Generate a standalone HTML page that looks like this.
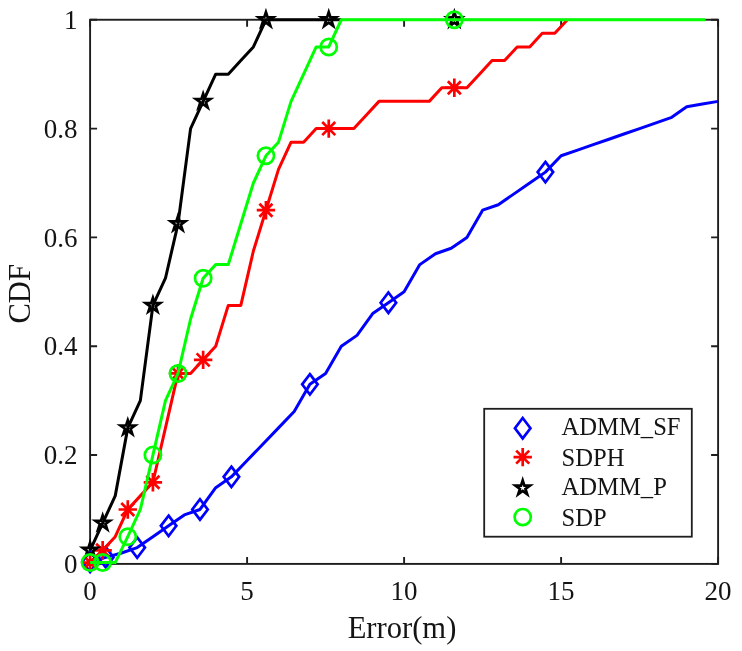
<!DOCTYPE html><html><head><meta charset="utf-8"><style>html,body{margin:0;padding:0;background:#fff;}svg{display:block;will-change:transform;}text{font-family:"Liberation Serif",serif;fill:#141414;}</style></head><body>
<svg width="742" height="651" viewBox="0 0 742 651">
<rect width="742" height="651" fill="#fff"/>
<path d="M90.10 563.90V556.90M90.10 19.75V26.75M247.10 563.90V556.90M247.10 19.75V26.75M404.10 563.90V556.90M404.10 19.75V26.75M561.10 563.90V556.90M561.10 19.75V26.75M718.10 563.90V556.90M718.10 19.75V26.75M90.10 563.90H97.10M718.10 563.90H711.10M90.10 455.07H97.10M718.10 455.07H711.10M90.10 346.24H97.10M718.10 346.24H711.10M90.10 237.41H97.10M718.10 237.41H711.10M90.10 128.58H97.10M718.10 128.58H711.10M90.10 19.75H97.10M718.10 19.75H711.10" stroke="#1e1e1e" stroke-width="1.9" fill="none"/>
<rect x="90.10" y="19.75" width="628.00" height="544.15" fill="none" stroke="#1e1e1e" stroke-width="1.9"/>
<polyline points="90.10,561.72 105.80,557.37 121.50,553.02 137.20,547.58 152.90,536.69 168.60,525.81 184.30,514.93 200.00,509.48 215.70,487.72 231.40,476.84 247.10,460.51 262.80,444.19 278.50,427.86 294.20,411.54 309.90,384.33 325.60,373.45 341.30,346.24 357.00,335.36 372.70,313.59 388.40,302.71 404.10,291.82 419.80,264.62 435.50,253.73 451.20,248.29 466.90,237.41 482.60,210.20 498.30,204.76 514.00,193.88 529.70,183.00 545.40,172.11 561.10,155.79 576.80,150.35 592.50,144.90 608.20,139.46 623.90,134.02 639.60,128.58 655.30,123.14 671.00,117.70 686.70,106.81 702.40,104.09 718.10,101.37" fill="none" stroke="#0000ff" stroke-width="3.0" stroke-linejoin="round" stroke-linecap="butt"/>
<path d="M90.10 551.52L97.85 561.72L90.10 571.92L82.35 561.72Z" fill="none" stroke="#0000ff" stroke-width="2.7"/>
<path d="M105.80 547.17L113.55 557.37L105.80 567.57L98.05 557.37Z" fill="none" stroke="#0000ff" stroke-width="2.7"/>
<path d="M137.20 537.38L144.95 547.58L137.20 557.78L129.45 547.58Z" fill="none" stroke="#0000ff" stroke-width="2.7"/>
<path d="M168.60 515.61L176.35 525.81L168.60 536.01L160.85 525.81Z" fill="none" stroke="#0000ff" stroke-width="2.7"/>
<path d="M200.00 499.28L207.75 509.48L200.00 519.68L192.25 509.48Z" fill="none" stroke="#0000ff" stroke-width="2.7"/>
<path d="M231.40 466.64L239.15 476.84L231.40 487.04L223.65 476.84Z" fill="none" stroke="#0000ff" stroke-width="2.7"/>
<path d="M309.90 374.13L317.65 384.33L309.90 394.53L302.15 384.33Z" fill="none" stroke="#0000ff" stroke-width="2.7"/>
<path d="M388.40 292.51L396.15 302.71L388.40 312.91L380.65 302.71Z" fill="none" stroke="#0000ff" stroke-width="2.7"/>
<path d="M545.40 161.91L553.15 172.11L545.40 182.31L537.65 172.11Z" fill="none" stroke="#0000ff" stroke-width="2.7"/>
<polyline points="90.10,562.54 102.66,550.30 115.22,536.69 127.78,509.48 140.34,495.88 152.90,482.28 165.46,427.86 178.02,373.45 190.58,373.45 203.14,359.84 215.70,346.24 228.26,305.43 240.82,305.43 253.38,251.01 265.94,210.20 278.50,169.39 291.06,142.18 303.62,142.18 316.18,128.58 328.74,128.58 341.30,128.58 353.86,128.58 366.42,114.98 378.98,101.37 391.54,101.37 404.10,101.37 416.66,101.37 429.22,101.37 441.78,87.77 454.34,87.77 466.90,87.77 479.46,74.16 492.02,60.56 504.58,60.56 517.14,46.96 529.70,46.96 542.26,33.35 554.82,33.35 567.38,19.75" fill="none" stroke="#ff0000" stroke-width="3.0" stroke-linejoin="round" stroke-linecap="butt"/>
<path d="M80.90 562.54H99.30M90.10 553.34V571.74M83.59 556.03L96.61 569.05M83.59 569.05L96.61 556.03" fill="none" stroke="#ff0000" stroke-width="2.7"/>
<path d="M93.46 550.30H111.86M102.66 541.10V559.50M96.15 543.79L109.17 556.80M96.15 556.80L109.17 543.79" fill="none" stroke="#ff0000" stroke-width="2.7"/>
<path d="M118.58 509.48H136.98M127.78 500.28V518.68M121.27 502.98L134.29 515.99M121.27 515.99L134.29 502.98" fill="none" stroke="#ff0000" stroke-width="2.7"/>
<path d="M143.70 482.28H162.10M152.90 473.08V491.48M146.39 475.77L159.41 488.78M146.39 488.78L159.41 475.77" fill="none" stroke="#ff0000" stroke-width="2.7"/>
<path d="M168.82 373.45H187.22M178.02 364.25V382.65M171.51 366.94L184.53 379.95M171.51 379.95L184.53 366.94" fill="none" stroke="#ff0000" stroke-width="2.7"/>
<path d="M193.94 359.84H212.34M203.14 350.64V369.04M196.63 353.34L209.65 366.35M196.63 366.35L209.65 353.34" fill="none" stroke="#ff0000" stroke-width="2.7"/>
<path d="M256.74 210.20H275.14M265.94 201.00V219.40M259.43 203.70L272.45 216.71M259.43 216.71L272.45 203.70" fill="none" stroke="#ff0000" stroke-width="2.7"/>
<path d="M319.54 128.58H337.94M328.74 119.38V137.78M322.23 122.07L335.25 135.09M322.23 135.09L335.25 122.07" fill="none" stroke="#ff0000" stroke-width="2.7"/>
<path d="M445.14 87.77H463.54M454.34 78.57V96.97M447.83 81.26L460.85 94.27M447.83 94.27L460.85 81.26" fill="none" stroke="#ff0000" stroke-width="2.7"/>
<polyline points="90.10,550.30 102.66,523.09 115.22,495.88 127.78,427.86 140.34,400.65 152.90,305.43 165.46,278.22 178.02,223.81 190.58,128.58 203.14,101.37 215.70,74.16 228.26,74.16 240.82,60.56 253.38,46.96 265.94,19.75 278.50,19.75 291.06,19.75 303.62,19.75 316.18,19.75 328.74,19.75 341.30,19.75" fill="none" stroke="#000000" stroke-width="3.0" stroke-linejoin="round" stroke-linecap="butt"/>
<path d="M90.10 542.70L91.81 547.95L97.33 547.95L92.86 551.19L94.57 556.44L90.10 553.20L85.63 556.44L87.34 551.19L82.87 547.95L88.39 547.95Z" fill="none" stroke="#000000" stroke-width="2.7" stroke-linejoin="miter" stroke-miterlimit="10"/>
<path d="M102.66 515.49L104.37 520.74L109.89 520.74L105.42 523.99L107.13 529.24L102.66 525.99L98.19 529.24L99.90 523.99L95.43 520.74L100.95 520.74Z" fill="none" stroke="#000000" stroke-width="2.7" stroke-linejoin="miter" stroke-miterlimit="10"/>
<path d="M127.78 420.26L129.49 425.51L135.01 425.51L130.54 428.76L132.25 434.01L127.78 430.77L123.31 434.01L125.02 428.76L120.55 425.51L126.07 425.51Z" fill="none" stroke="#000000" stroke-width="2.7" stroke-linejoin="miter" stroke-miterlimit="10"/>
<path d="M152.90 297.83L154.61 303.08L160.13 303.08L155.66 306.33L157.37 311.58L152.90 308.33L148.43 311.58L150.14 306.33L145.67 303.08L151.19 303.08Z" fill="none" stroke="#000000" stroke-width="2.7" stroke-linejoin="miter" stroke-miterlimit="10"/>
<path d="M178.02 216.21L179.73 221.46L185.25 221.46L180.78 224.70L182.49 229.95L178.02 226.71L173.55 229.95L175.26 224.70L170.79 221.46L176.31 221.46Z" fill="none" stroke="#000000" stroke-width="2.7" stroke-linejoin="miter" stroke-miterlimit="10"/>
<path d="M203.14 93.77L204.85 99.02L210.37 99.02L205.90 102.27L207.61 107.52L203.14 104.28L198.67 107.52L200.38 102.27L195.91 99.02L201.43 99.02Z" fill="none" stroke="#000000" stroke-width="2.7" stroke-linejoin="miter" stroke-miterlimit="10"/>
<path d="M265.94 12.15L267.65 17.40L273.17 17.40L268.70 20.65L270.41 25.90L265.94 22.65L261.47 25.90L263.18 20.65L258.71 17.40L264.23 17.40Z" fill="none" stroke="#000000" stroke-width="2.7" stroke-linejoin="miter" stroke-miterlimit="10"/>
<path d="M328.74 12.15L330.45 17.40L335.97 17.40L331.50 20.65L333.21 25.90L328.74 22.65L324.27 25.90L325.98 20.65L321.51 17.40L327.03 17.40Z" fill="none" stroke="#000000" stroke-width="2.7" stroke-linejoin="miter" stroke-miterlimit="10"/>
<path d="M454.34 12.15L456.05 17.40L461.57 17.40L457.10 20.65L458.81 25.90L454.34 22.65L449.87 25.90L451.58 20.65L447.11 17.40L452.63 17.40Z" fill="none" stroke="#000000" stroke-width="2.7" stroke-linejoin="miter" stroke-miterlimit="10"/>
<polyline points="90.10,562.54 102.66,562.54 115.22,562.54 127.78,536.69 140.34,509.48 152.90,455.07 165.46,400.65 178.02,373.45 190.58,319.03 203.14,278.22 215.70,264.62 228.26,264.62 240.82,223.81 253.38,183.00 265.94,155.79 278.50,142.18 291.06,101.37 303.62,74.16 316.18,46.96 328.74,46.96 341.30,19.75 353.86,19.75 366.42,19.75 378.98,19.75 391.54,19.75 404.10,19.75 416.66,19.75 429.22,19.75 441.78,19.75 454.34,19.75 466.90,19.75 479.46,19.75 492.02,19.75 504.58,19.75 517.14,19.75 529.70,19.75 542.26,19.75 554.82,19.75 567.38,19.75 579.94,19.75 592.50,19.75 605.06,19.75 617.62,19.75 630.18,19.75 642.74,19.75 655.30,19.75 667.86,19.75 680.42,19.75 692.98,19.75 705.54,19.75" fill="none" stroke="#00ff00" stroke-width="3.0" stroke-linejoin="round" stroke-linecap="butt"/>
<circle cx="90.10" cy="562.54" r="8.1" fill="none" stroke="#00ff00" stroke-width="2.7"/>
<circle cx="102.66" cy="562.54" r="8.1" fill="none" stroke="#00ff00" stroke-width="2.7"/>
<circle cx="127.78" cy="536.69" r="8.1" fill="none" stroke="#00ff00" stroke-width="2.7"/>
<circle cx="152.90" cy="455.07" r="8.1" fill="none" stroke="#00ff00" stroke-width="2.7"/>
<circle cx="178.02" cy="373.45" r="8.1" fill="none" stroke="#00ff00" stroke-width="2.7"/>
<circle cx="203.14" cy="278.22" r="8.1" fill="none" stroke="#00ff00" stroke-width="2.7"/>
<circle cx="265.94" cy="155.79" r="8.1" fill="none" stroke="#00ff00" stroke-width="2.7"/>
<circle cx="328.74" cy="46.96" r="8.1" fill="none" stroke="#00ff00" stroke-width="2.7"/>
<circle cx="454.34" cy="19.75" r="8.1" fill="none" stroke="#00ff00" stroke-width="2.7"/>
<text x="90.10" y="599.5" font-size="27" text-anchor="middle">0</text>
<text x="247.10" y="599.5" font-size="27" text-anchor="middle">5</text>
<text x="404.10" y="599.5" font-size="27" text-anchor="middle">10</text>
<text x="561.10" y="599.5" font-size="27" text-anchor="middle">15</text>
<text x="718.10" y="599.5" font-size="27" text-anchor="middle">20</text>
<text x="77.5" y="573.10" font-size="27" text-anchor="end">0</text>
<text x="77.5" y="464.27" font-size="27" text-anchor="end">0.2</text>
<text x="77.5" y="355.44" font-size="27" text-anchor="end">0.4</text>
<text x="77.5" y="246.61" font-size="27" text-anchor="end">0.6</text>
<text x="77.5" y="137.78" font-size="27" text-anchor="end">0.8</text>
<text x="77.5" y="28.95" font-size="27" text-anchor="end">1</text>
<text x="402" y="637.8" font-size="30.6" text-anchor="middle">Error(m)</text>
<text transform="translate(29.7 293.8) rotate(-90)" x="0" y="0" font-size="30.6" text-anchor="middle">CDF</text>
<rect x="484.2" y="408.8" width="207.60" height="127.90" fill="#fff" stroke="#1e1e1e" stroke-width="1.8"/>
<path d="M522.70 418.00L530.45 428.20L522.70 438.40L514.95 428.20Z" fill="none" stroke="#0000ff" stroke-width="2.7"/>
<text x="561.6" y="435.40" font-size="24.6" fill="#000">ADMM_SF</text>
<path d="M513.50 457.10H531.90M522.70 447.90V466.30M516.19 450.59L529.21 463.61M516.19 463.61L529.21 450.59" fill="none" stroke="#ff0000" stroke-width="2.7"/>
<text x="561.6" y="465.90" font-size="24.6" fill="#000">SDPH</text>
<path d="M522.70 480.40L524.41 485.65L529.93 485.65L525.46 488.90L527.17 494.15L522.70 490.90L518.23 494.15L519.94 488.90L515.47 485.65L520.99 485.65Z" fill="none" stroke="#000000" stroke-width="2.7" stroke-linejoin="miter" stroke-miterlimit="10"/>
<text x="561.6" y="495.30" font-size="24.6" fill="#000">ADMM_P</text>
<circle cx="522.70" cy="517.10" r="8.1" fill="none" stroke="#00ff00" stroke-width="2.7"/>
<text x="561.6" y="526.40" font-size="24.6" fill="#000">SDP</text>
</svg></body></html>
